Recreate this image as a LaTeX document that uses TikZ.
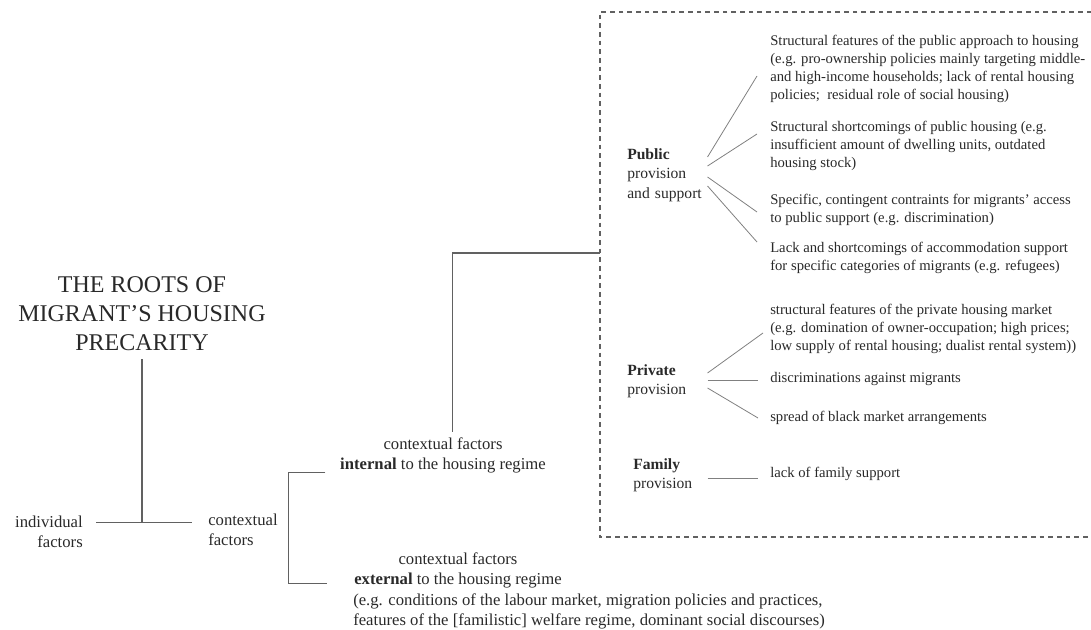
\documentclass[tikz,border=0pt]{standalone}
\usepackage{fontspec}
\setmainfont{Liberation Serif}
\usetikzlibrary{calc}
\definecolor{sqsqsq}{rgb}{0.16,0.16,0.16}
\definecolor{wwwwww}{rgb}{0.38,0.38,0.38}
\definecolor{aqaqaq}{rgb}{0.5,0.5,0.5}
\tikzset{
  lbl/.style={text=sqsqsq,inner sep=0pt,align=center,font=\fontsize{12.5}{15}\selectfont},
  src/.style={text=sqsqsq,inner sep=0pt,anchor=west,align=left,text width=60pt,font=\fontsize{11.7}{14.6}\selectfont},
  item/.style={text=sqsqsq,inner sep=0pt,anchor=west,align=left,font=\fontsize{11}{13.5}\selectfont},
  tree/.style={color=wwwwww,line width=0.8pt},
  fan/.style={color=aqaqaq,line width=0.6pt}
}
\begin{document}
\begin{tikzpicture}[line cap=butt,line join=miter,x=0.75pt,y=-0.75pt]
\useasboundingbox (0,0) rectangle (1091,630);
% left part of the tree
\node[lbl,font=\fontsize{18}{21.8}\selectfont] (title) at (142,314) {THE ROOTS OF\\MIGRANT’S HOUSING\\PRECARITY};
\node[lbl,align=right,anchor=east] (indiv) at (83,532) {individual\\factors};
\node[lbl,align=left,anchor=west] (ctx) at (208,530) {contextual\\factors};
\node[lbl] (int) at (443,455) {contextual factors\\\textbf{internal} to the housing regime};
\node[lbl] (ext) at (458,570) {contextual factors\\\textbf{external} to the housing regime};
\node[lbl,align=left,anchor=west] (extnote) at (353,611) {(e.g. conditions of the labour market, migration policies and practices,\\features of the [familistic] welfare regime, dominant social discourses)};
\coordinate (hook) at (600,253);
\draw[tree] ([xshift=10pt,yshift=7pt]indiv.east) -- ([xshift=-12pt,yshift=7pt]indiv.east -| ctx.west);
\draw[tree] ([yshift=-6pt]title.south) -- ([yshift=7pt]title.south |- indiv.east);
\draw[tree] ([xshift=-11pt]int.south west) -| ([xshift=8pt]ctx.east) |- ([xshift=-20pt,yshift=3pt]ext.south west);
\draw[tree] ([xshift=7pt,yshift=4pt]int.north) |- (hook);
% the housing regime
\draw[color=wwwwww,line width=0.8pt,dash pattern=on 3.5pt off 3pt] (1100,12) -- (600,12) -- (600,537) -- (1100,537);
\node[src] (pub) at (627,175) {\textbf{Public}\\provision\\and support};
\node[item] (pu1) at (770,68.5) {Structural features of the public approach to housing\\(e.g. pro-ownership policies mainly targeting middle-\\and high-income households; lack of rental housing\\policies;\ \ residual role of social housing)};
\node[item] (pu2) at (770,146) {Structural shortcomings of public housing (e.g.\\insufficient amount of dwelling units, outdated\\housing stock)};
\node[item] (pu3) at (770,210) {Specific, contingent contraints for migrants’ access\\to public support (e.g. discrimination)};
\node[item] (pu4) at (770,258) {Lack and shortcomings of accommodation support\\for specific categories of migrants (e.g. refugees)};
\draw[fan] ($(pub.east)+(0,-18)$) -- ($(pu1.west)+(-13,7.5)$);
\draw[fan] ($(pub.east)+(0,-9)$) -- ($(pu2.west)+(-13,-12)$);
\draw[fan] ($(pub.east)+(0,2)$) -- ($(pu3.west)+(-13,2)$);
\draw[fan] ($(pub.east)+(0,11)$) -- ($(pu4.west)+(-13,-16)$);
\node[src] (priv) at (627,381) {\textbf{Private}\\provision};
\node[item] (pr1) at (770,329) {structural features of the private housing market\\(e.g. domination of owner-occupation; high prices;\\low supply of rental housing; dualist rental system))};
\node[item] (pr2) at (770,379) {discriminations against migrants};
\node[item] (pr3) at (770,418) {spread of black market arrangements};
\draw[fan] ($(priv.east)+(0,-8)$) -- ($(pr1.west)+(-7,4)$);
\draw[fan] ($(priv.east)+(0,-1)$) -- ($(pr2.west)+(-12,1)$);
\draw[fan] ($(priv.east)+(0,7)$) -- ($(pr3.west)+(-12,0)$);
\node[src,text width=55.5pt] (fam) at (633,475.5) {\textbf{Family}\\provision};
\node[item] (fa1) at (770,474) {lack of family support};
\draw[fan] ($(fam.east)+(0,2.5)$) -- ($(fa1.west)+(-12,4)$);
\end{tikzpicture}
\end{document}
